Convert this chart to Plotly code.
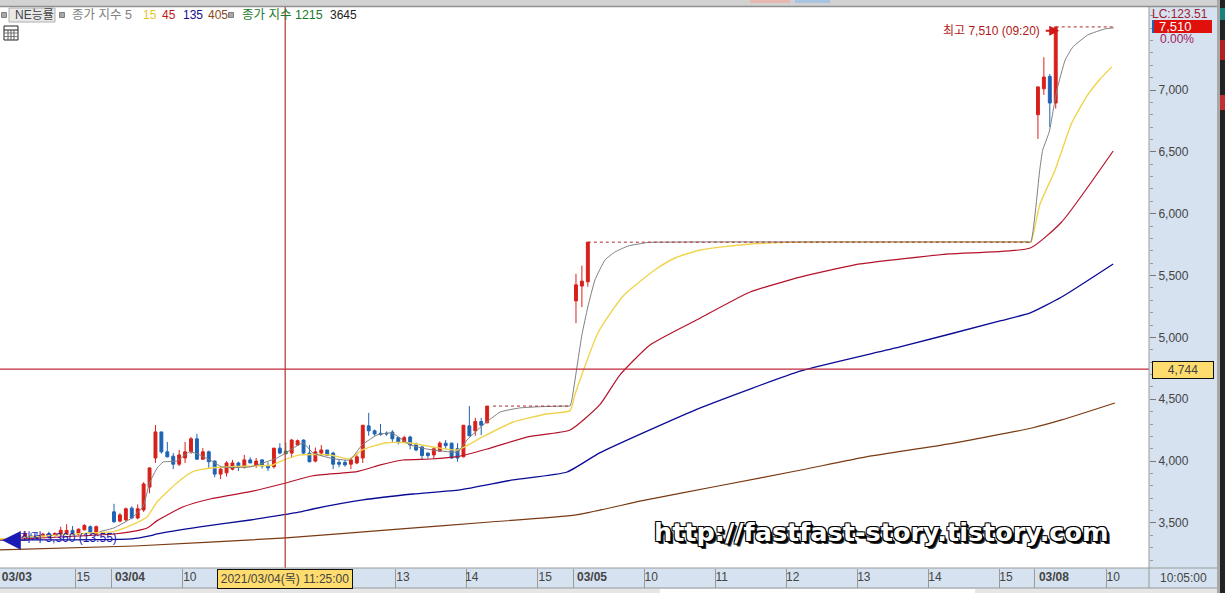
import plotly.graph_objects as go

# ---- candles (5-minute bars, index 0 = first bar of 03/04) ----
candle_x = [-18,-17,-16,-15,-14,-13,-12,-11,-10,-9,-8,-7,-6,-5,-4,-3,
            0,1,2,3,4,5,6,7,8,9,10,11,12,13,14,15,16,17,18,19,20,21,22,23,24,25,26,27,28,
            30,31,32,33,34,35,36,37,38,39,40,41,42,43,44,45,46,47,48,49,50,51,52,53,54,55,56,57,58,59,60,61,62,63,
            78,79,80,156,157,158,159]
candle_open = [3370,3365,3385,3385,3395,3395,3395,3405,3400,3410,3415,3440,3410,3445,3470,3410,
               3590,3515,3525,3620,3540,3605,3790,4025,4236,4075,4040,3975,4025,4075,4180,4015,4075,4000,3895,3905,3935,3985,3950,4010,3965,4010,3965,3955,4105,
               4065,4130,4170,4065,4000,4065,4090,4065,3990,3990,3975,3985,4025,4285,4245,4225,4225,4235,4190,4155,4195,4135,4115,4065,4050,4080,4145,4145,4100,4035,4285,4245,4320,4310,
               5295,5415,5450,6800,7010,7110,6895]
candle_high = [3375,3390,3410,3435,3420,3420,3420,3430,3425,3470,3490,3475,3455,3490,3480,3480,
               3655,3580,3625,3635,3650,3830,3950,4292,4236,4155,4065,4090,4155,4195,4220,4105,4085,4005,3945,4000,4010,3995,4050,4030,4025,4015,3990,4105,4145,
               4180,4175,4175,4130,4110,4130,4090,4075,4010,4010,4030,4065,4290,4390,4255,4300,4240,4250,4190,4205,4205,4150,4120,4070,4115,4160,4170,4150,4145,4290,4445,4350,4350,4445,
               5515,5580,5770,7030,7265,7130,7510]
candle_low = [3355,3360,3375,3375,3370,3365,3385,3375,3390,3395,3405,3400,3400,3440,3395,3400,
              3500,3505,3515,3530,3530,3590,3740,3985,4060,4030,3935,3960,3985,4060,4015,4015,3945,3870,3855,3875,3925,3920,3940,3985,3945,3940,3920,3940,4055,
              4025,4125,4050,3990,3990,4040,4045,3935,3950,3955,3935,3975,3985,4205,4205,4205,4205,4155,4135,4145,4095,4080,4015,4020,4020,4075,4100,4020,3995,4030,4200,4205,4210,4305,
              5115,5245,5410,6605,6960,6700,6850]
candle_close = [3360,3385,3400,3410,3380,3375,3410,3385,3415,3440,3440,3415,3450,3480,3425,3470,
                3510,3565,3615,3540,3615,3815,3945,4236,4075,4035,3975,4050,4075,4180,4015,4075,3995,3895,3935,3985,3985,3950,4010,3985,4000,3960,3945,4105,4065,
                4170,4165,4065,3995,4075,4090,4045,3975,3975,3970,4010,4035,4290,4245,4220,4215,4220,4180,4155,4190,4130,4090,4045,4045,4100,4145,4125,4025,4025,4290,4205,4320,4290,4445,
                5425,5455,5770,7025,7105,6895,7510]
# the single green (unchanged) bar under the crosshair
flat_x = [29]
flat_open = [4080]
flat_high = [4150]
flat_low = [4055]
flat_close = [4060]

# ---- moving averages ----
ma5_x = [-2.4,0,3,4.9,6,7.3,8.3,10.6,12.8,14.5,16.7,18.2,23,27.5,29,31.9,33.6,36.5,39.8,41.9,44.4,46.9,50,52.8,58,59.6,62.3,65.2,68.5,72,76,77,77.3,79,80,81.2,82.9,84.6,86.8,90.2,92,100,120,140,152,154,154.8,156.3,156.8,157.9,159.2,160.6,161.9,164.4,167.3,168.8]
ma5_y = [3430,3460,3540,3632,3823,3945,3993,4001,4076,4050,3996,3953,3953,4025,4066,4147,4066,4025,4009,4131,4211,4228,4131,4098,4074,4171,4292,4397,4430,4440,4445,4446,4494,5020,5246,5464,5626,5691,5739,5768,5770,5772,5772,5772,5772,5772,5772,6354,6515,6661,7000,7243,7348,7445,7494,7502]
ma15_x = [-19.25,-13.7,-4,0,3,5.6,7.3,10.6,13.3,16.7,23.5,26.8,28,31.4,36.5,39.8,41.9,46,50,53.9,58,62.3,67.4,73,77,77.8,81.7,85.8,88.5,91.3,94.7,99,107.4,116,120,130,145,152,154,154.8,156.3,158.9,161.7,164.4,166.5,168.5]
ma15_y = [3371,3389,3419,3430,3484,3551,3672,3823,3915,3947,3961,3969,3996,4050,4050,4017,4090,4149,4147,4114,4090,4198,4316,4381,4408,4535,5036,5327,5440,5545,5642,5707,5755,5770,5772,5772,5772,5772,5772,5772,6071,6354,6733,6960,7089,7189]
ma45_x = [-19.25,0,3,5.6,7.3,11.6,16.2,23,29,33.6,41,45,48.8,53.4,58,63,70,77,82,85.4,90.5,99,107.4,116,126,141,154.7,160,168.7]
ma45_y = [3363,3411,3430,3460,3519,3629,3694,3753,3823,3882,3915,3969,4009,4017,4036,4098,4198,4252,4454,4696,4939,5157,5367,5489,5594,5675,5723,5933,6507]
ma135_x = [-19.25,3,6,7.3,14.5,23,31.4,33.6,42,50.5,58.4,67.4,76.5,82,99,116,132.7,149.6,154.7,160,168.7]
ma135_y = [3363,3371,3395,3411,3468,3524,3589,3613,3686,3734,3767,3848,3912,4066,4430,4729,4923,5133,5198,5327,5594]
ma405_x = [-19.25,3.5,29,48,63.5,78,89,102,116,127,141,155,160,169]
ma405_y = [3282,3314,3379,3451,3508,3565,3678,3799,3928,4034,4139,4268,4333,4470]

# ---- dashed "last price" guides ----
guide_a_x = [64,77]
guide_a_y = [4445,4445]
guide_b_x = [80,155]
guide_b_y = [5770,5770]
guide_c_x = [159,169]
guide_c_y = [7510,7510]

# ---- axes ----
x_tick_sep = [-6.5,-0.5,11.5,47.5,59.5,71.5,77.5,89.5,101.5,113.5,125.5,137.5,149.5,155.5,167.5]
x_tick_pos = [-16.4,-5.2,2.7,12.8,48.8,60.4,72.8,80.7,90.7,102.6,114.6,126.6,138.6,150.6,158.7,168.7]
x_tick_txt = ["<b>03/03</b>","15","<b>03/04</b>","10","13","14","15","<b>03/05</b>","10","11","12","13","14","15","<b>03/08</b>","10"]
y_tick_val = [3500,4000,4500,5000,5500,6000,6500,7000]
y_tick_txt = ["3,500","4,000","4,500","5,000","5,500","6,000","6,500","7,000"]
y_minor_val = [3200,3300,3400,3600,3700,3800,3900,4100,4200,4300,4400,4600,4700,4800,4900,5100,5200,5300,5400,5600,5700,5800,5900,6100,6200,6300,6400,6600,6700,6800,6900,7100,7200,7300,7400,7500,7600]
cross_x = 28.9
cross_y = 4744

FONT = "Liberation Sans, Noto Sans CJK KR, sans-serif"
W, H = 1225, 593
L, R, T, B = 0, 1149, 7, 568
RED, BLUE = "#d8201a", "#1f63b5"
def px(x): return (x - L) / (R - L)
def py(y): return (B - y) / (B - T)

fig = go.Figure()
def line(x, y, color, width=1.1, dash=None, smooth=0.0):
    ln = dict(color=color, width=width, dash=dash)
    if smooth:
        ln.update(shape="spline", smoothing=smooth)
    fig.add_trace(go.Scatter(x=x, y=y, mode="lines", showlegend=False, hoverinfo="skip", line=ln))

line(ma405_x, ma405_y, "#7a3a12", 1.2, smooth=0.5)
line(ma135_x, ma135_y, "#0a0a96", 1.3, smooth=0.5)
line(ma45_x, ma45_y, "#b5122a", 1.2, smooth=0.5)
line(ma15_x, ma15_y, "#f0d44e", 1.4, smooth=0.5)
line(ma5_x, ma5_y, "#808080", 1.0, smooth=0.4)
for gx, gy in ((guide_a_x, guide_a_y), (guide_b_x, guide_b_y), (guide_c_x, guide_c_y)):
    line(gx, gy, "#b02a2a", 1, "3px,3px")

fig.add_trace(go.Candlestick(x=candle_x, open=candle_open, high=candle_high, low=candle_low, close=candle_close,
    whiskerwidth=0, showlegend=False,
    increasing=dict(line=dict(color=RED, width=1), fillcolor=RED),
    decreasing=dict(line=dict(color=BLUE, width=1), fillcolor=BLUE)))
fig.add_trace(go.Candlestick(x=flat_x, open=flat_open, high=flat_high, low=flat_low, close=flat_close,
    whiskerwidth=0, showlegend=False,
    increasing=dict(line=dict(color="#1f8a5a", width=1), fillcolor="#1f8a5a"),
    decreasing=dict(line=dict(color="#1f8a5a", width=1), fillcolor="#1f8a5a")))

shapes = []
def rect(x0, y0, x1, y1, fill, lc=None, lw=0):
    shapes.append(dict(type="rect", xref="paper", yref="paper", x0=px(x0), x1=px(x1), y0=py(y0), y1=py(y1),
                       fillcolor=fill, line=dict(color=lc or fill, width=lw), layer="above"))
def seg(x0, y0, x1, y1, c, w=1):
    shapes.append(dict(type="line", xref="paper", yref="paper", x0=px(x0), x1=px(x1), y0=py(y0), y1=py(y1),
                       line=dict(color=c, width=w), layer="above"))

# crosshair
shapes.append(dict(type="line", xref="x", yref="paper", x0=cross_x, x1=cross_x, y0=0, y1=1, line=dict(color="#b5362a", width=1.2)))
shapes.append(dict(type="line", xref="paper", yref="y", x0=0, x1=1, y0=cross_y, y1=cross_y, line=dict(color="#c22a3a", width=1.2)))

# window chrome
rect(0, 0, 1225, 6, "#d2d2d2")
seg(0, 6.5, 1217, 6.5, "#8f8f8f", 1.5)
rect(750, 0, 790, 3, "#e8b8b0")
rect(795, 0, 830, 3, "#a9c4e0")
rect(1217, 0, 1220, 593, "#a8a8a8")
rect(1220, 0, 1225, 593, "#232323")
rect(1220, 8, 1225, 20, "#1a7f80")
rect(1220, 40, 1225, 60, "#b02020")
rect(1220, 95, 1225, 110, "#c03030")
rect(0, 588, 1217, 593, "#e6e6e6")
rect(660, 589, 975, 593, "#ffffff")
seg(0, 568, 1217, 568, "#9a9a9a", 1)
seg(0, 588, 1217, 588, "#9a9a9a", 1)
seg(1149, 7, 1149, 588, "#9a9a9a", 1)
# grid icon in the legend row
rect(4, 26, 18, 40, "#ffffff", "#222222", 1)
seg(4, 30, 18, 30, "#222222", 1)
for xx in (8, 11, 14):
    seg(xx, 30, xx, 40, "#555555", 1)
for yy in (33, 36.5):
    seg(4, yy, 18, yy, "#777777", 1)
# legend row
rect(9, 8, 55, 22, "#e8e8e8", "#b0b0b0", 1)
for xx in (4, 62, 231):
    rect(xx - 2.5, 12.5, xx + 2.5, 17.5, "#a8a8a8", "#808080", 1)
rect(1152, 20, 1154, 33, BLUE)
rect(1154, 20, 1212, 33, "#e0100c")

ann = []
def text(x, y, s, color, size=12, anchor="left", **kw):
    ann.append(dict(xref="paper", yref="paper", x=px(x), y=py(y), text=s, showarrow=False, xanchor=anchor, yanchor="middle",
                    font=dict(family=FONT, size=size, color=color), **kw))
text(13, 15, "NE능률", "#444444", 12)
text(70, 15, "종가 지수 5", "#808080", 12.5)
text(141, 15, "15", "#e6c52a", 12)
text(160, 15, "45", "#c01818", 12)
text(181, 15, "135", "#10108c", 12)
text(206, 15, "405", "#8a4a1a", 12)
text(240, 15, "종가 지수 1215", "#1a7a2a", 12.5)
text(328, 15, "3645", "#222222", 12)
text(1150, 14, "LC:123.51", "#a02030", 12)
text(1157, 26.5, "7,510", "#ffffff", 13)
text(1158, 39, "0.00%", "#a02060", 12)
text(941, 31, "최고 7,510 (09:20)", "#b01818", 12)
text(18, 538, "최저 3,360 (13:55)", "#1a1ab4", 12)
text(1183, 370, "4,744", "#444444", 12, "center", bgcolor="#ffdc6e", bordercolor="#111111", borderwidth=1, borderpad=1,
     width=58, height=14)
text(285, 578.5, "2021/03/04(목) 11:25:00", "#444444", 12, "center", bgcolor="#ffdc6e", bordercolor="#111111", borderwidth=1, borderpad=1,
     width=132, height=16)
text(1183, 578, "10:05:00", "#444444", 12, "center")
ann.append(dict(xref="paper", yref="paper", x=px(882), y=py(532), text="http://fastfast-story.tistory.com", showarrow=False,
                xanchor="center", yanchor="middle",
                font=dict(family="DejaVu Sans", size=25.5, color="#ffffff", weight="bold",
                          shadow="-1px -1px 0 #000,1px -1px 0 #000,-1px 1px 0 #000,1px 1px 0 #000,2px 2px 0 #000,3px 3px 0 #333")))
ann.append(dict(x=159.6, y=7480, xref="x", yref="y", ax=-15, ay=0, text="", showarrow=True, arrowhead=2, arrowsize=1, arrowwidth=2, arrowcolor="#d01818"))
ann.append(dict(x=-18.9, y=3360, xref="x", yref="y", ax=16, ay=0, text="", showarrow=True, arrowhead=2, arrowsize=1.5, arrowwidth=2.5, arrowcolor="#1a1ab4"))

fig.update_layout(
    width=W, height=H, margin=dict(l=L, r=W - R, t=T, b=H - B), autosize=False,
    paper_bgcolor="#d6e2f0", plot_bgcolor="#ffffff", showlegend=False,
    shapes=shapes, annotations=ann,
    font=dict(family=FONT, size=12, color="#444444"),
    xaxis=dict(range=[-19.25, 174.75], rangeslider=dict(visible=False), showgrid=False, zeroline=False, showline=False,
               tickmode="array", tickvals=x_tick_pos, ticktext=x_tick_txt, ticks="", ticklen=0,
               tickfont=dict(family=FONT, size=12, color="#444444"),
               minor=dict(tickmode="array", tickvals=x_tick_sep, ticks="outside", ticklen=20, tickcolor="#9a9a9a", tickwidth=1)),
    yaxis=dict(range=[3136, 7671], side="right", showgrid=False, zeroline=False, showline=False,
               tickmode="array", tickvals=y_tick_val, ticktext=y_tick_txt, ticks="outside", ticklen=6, tickcolor="#777777", tickwidth=1,
               tickfont=dict(family=FONT, size=12, color="#444444"),
               minor=dict(tickmode="array", tickvals=y_minor_val, ticks="outside", ticklen=3, tickcolor="#999999", tickwidth=1)),
)
fig.write_html("out.html", config=dict(displayModeBar=False),
               post_script="document.body.style.margin='0';document.body.style.overflow='hidden';")
